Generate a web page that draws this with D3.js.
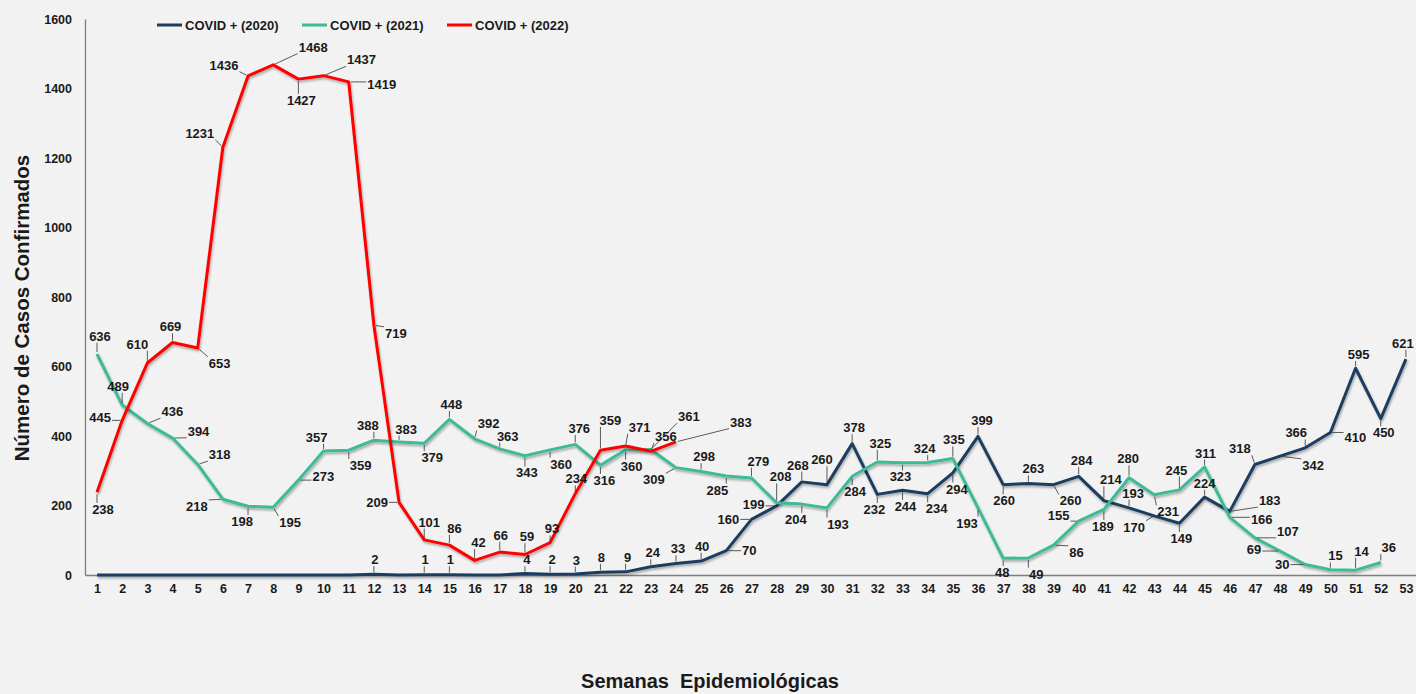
<!DOCTYPE html>
<html>
<head>
<meta charset="utf-8">
<script src="https://cdn.jsdelivr.net/npm/d3@7"></script>
<style>
  html, body { margin: 0; padding: 0; background: #f2f2f2; }
  svg { display: block; }
  text { font-family: "Liberation Sans", Arial, sans-serif; font-weight: bold; fill: #1a1a1a; }
</style>
</head>
<body>
<svg id="chart" width="1416" height="694"></svg>
<script>
// ---------------- DATA ----------------
const weeks = [1,2,3,4,5,6,7,8,9,10,11,12,13,14,15,16,17,18,19,20,21,22,23,24,25,26,27,28,29,30,31,32,33,34,35,36,37,38,39,40,41,42,43,44,45,46,47,48,49,50,51,52,53];
const yTicks = [0,200,400,600,800,1000,1200,1400,1600];
const seriesNames = ["COVID + (2020)", "COVID + (2021)", "COVID + (2022)"];

const covid2020 = [0,0,0,0,0,0,0,0,0,0,0,2,0,1,1,0,0,4,2,3,8,9,24,33,40,70,160,199,268,260,378,232,244,234,294,399,260,263,260,284,214,193,170,149,224,183,318,342,366,410,595,450,621];
const covid2021 = [636,489,436,394,318,218,198,195,273,357,359,388,383,379,448,392,363,343,360,376,316,360,361,309,298,285,279,208,204,193,284,325,323,324,335,193,48,49,86,155,189,280,231,245,311,166,107,69,30,15,14,36];
const covid2022 = [238,445,610,669,653,1231,1436,1468,1427,1437,1419,719,209,101,86,42,66,59,93,234,359,371,356,383];

// label offsets (layout only, pixels relative to each point)
const labelOff2020 = [[0,-15],[0,-15],[0,-15],[0,-15],[0,-15],[0,-15],[0,-15],[0,-15],[0,-15],[0,-15],[0,-15],
  [1,-15],[0,-15],[1,-15],[1,-15],[0,-15],[0,-15],[2,-14],[2,-15],[1,-14],[1,-15],[2,-15],[2,-14],[2,-15],[1,-15],
  [23,0],[-23,0],[-23,-2],[-4,-17],[-5,-25],[2,-16],[-3,15],[3,16],[9,15],[4,16],[4,-16],[1,16],[5,-15],[17,16],
  [3,-16],[7,-21],[4,-15],[-20,11],[2,15],[0,-14],[40,-11],[-15,-16],[33,9],[-9,-15],[25,5],[3,-14],[3,14],[-3,-16]];
const labelOff2021 = [[3,-18],[-4,-19],[25,-12],[26,-7],[22,-10],[-26,7],[-6,15],[17,15],[25,-4],[-7,-14],
  [12,15],[-6,-15],[7,-13],[8,14],[2,-15],[14,-15],[8,-13],[2,17],[11,14],[4,-16],
  [4,15],[6,16],[38,-33],[-22,12],[3,-15],[-9,14],[7,-17],[4,-26],[-6,15],[11,16],
  [3,15],[3,-19],[-2,14],[-3,-14],[1,-19],[-11,15],[-1,14],[8,16],[23,7],[-20,-6],
  [-1,17],[-1,-19],[14,17],[-3,-20],[1,-14],[32,2],[33,-6],[-26,-2],[-23,0],[5,-14],
  [6,-19],[8,-15]];
const labelOff2022 = [[6,17],[-22,-3],[-10,-19],[-2,-16],[22,15],[-23,-14],[-24,-11],[40,-18],[3,21],[38,-16],
  [33,2],[22,8],[-22,0],[5,-18],[5,-17],[4,-18],[1,-17],[2,-18],[2,-14],[1,-15],[10,-30],[14,-19],[15,-15],[65,-20]];

const colors = ["#1b3d60", "#3dbb96", "#ff0000"];

// ---------------- CHART ----------------
const svg = d3.select("#chart");
const defs = svg.append("defs");
const f = defs.append("filter").attr("id", "shadow").attr("x", "-5%").attr("y", "-5%").attr("width", "110%").attr("height", "120%");
f.append("feDropShadow").attr("dx", 1).attr("dy", 2).attr("stdDeviation", 1.3)
  .attr("flood-color", "#000").attr("flood-opacity", 0.3);

const x = d3.scaleLinear().domain([0.523, 53.4]).range([85, 1416]);
const y = d3.scaleLinear().domain([0, 1600]).range([575, 19]);

// y axis
const yAx = svg.append("g").attr("transform", "translate(85,0)")
  .call(d3.axisLeft(y).tickValues(yTicks).tickFormat(d3.format("d")).tickSize(0).tickSizeOuter(0).tickPadding(13));
yAx.select(".domain").attr("stroke", "#7f7f7f").attr("stroke-width", 1.3);
yAx.selectAll("text").style("font-size", "12.5px").attr("fill", "#1a1a1a");

// x axis
const xAx = svg.append("g").attr("transform", "translate(0,575)")
  .call(d3.axisBottom(x).tickValues(weeks).tickFormat(d3.format("d")).tickSize(0).tickSizeOuter(0).tickPadding(9));
xAx.select(".domain").attr("stroke", "#7f7f7f").attr("stroke-width", 1.3);
xAx.selectAll("text").style("font-size", "12.5px").attr("fill", "#1a1a1a");

// titles
svg.append("text").attr("transform", "translate(29,308) rotate(-90)")
  .attr("text-anchor", "middle").style("font-size", "20.5px").text("Número de Casos Confirmados");
svg.append("text").attr("x", 710).attr("y", 688).attr("text-anchor", "middle")
  .attr("xml:space", "preserve").style("white-space", "pre").style("font-size", "20px")
  .text("Semanas  Epidemiológicas");

// lines
const allSeries = [covid2020, covid2021, covid2022];
const allOffs = [labelOff2020, labelOff2021, labelOff2022];
const line = d3.line().x((d, i) => x(weeks[i])).y(d => y(d));

allSeries.forEach((s, k) => {
  svg.append("path").datum(s)
    .attr("fill", "none").attr("stroke", colors[k]).attr("stroke-width", 3)
    .attr("stroke-linejoin", "round").attr("filter", "url(#shadow)")
    .attr("d", line);
});

// labels
const labG = svg.append("g");
allSeries.forEach((s, k) => {
  s.forEach((v, i) => {
    if (v === 0) return;
    const px = x(weeks[i]), py = y(v);
    const off = allOffs[k][i];
    const t = labG.append("text").attr("x", px + off[0]).attr("y", py + off[1])
      .attr("text-anchor", "middle").attr("dy", "0.36em")
      .style("font-size", "13px").text(v);
    const b = t.node().getBBox();
    const bx0 = b.x - 1, bx1 = b.x + b.width + 1, by0 = b.y + 1, by1 = b.y + b.height - 1;
    const nx = Math.max(bx0, Math.min(px, bx1));
    const ny = Math.max(by0, Math.min(py, by1));
    const dist = Math.hypot(nx - px, ny - py);
    if (dist > 5) {
      const ux = (nx - px) / dist, uy = (ny - py) / dist;
      labG.append("line")
        .attr("x1", px + ux * 2).attr("y1", py + uy * 2)
        .attr("x2", nx).attr("y2", ny)
        .attr("stroke", "#333").attr("stroke-width", 0.8);
    }
  });
});

// legend
const legX = [157, 302, 447];
seriesNames.forEach((n, k) => {
  svg.append("line").attr("x1", legX[k]).attr("x2", legX[k] + 25).attr("y1", 25).attr("y2", 25)
    .attr("stroke", colors[k]).attr("stroke-width", 3);
  svg.append("text").attr("x", legX[k] + 28).attr("y", 25).attr("dy", "0.36em")
    .style("font-size", "13px").text(n);
});
</script>
</body>
</html>
